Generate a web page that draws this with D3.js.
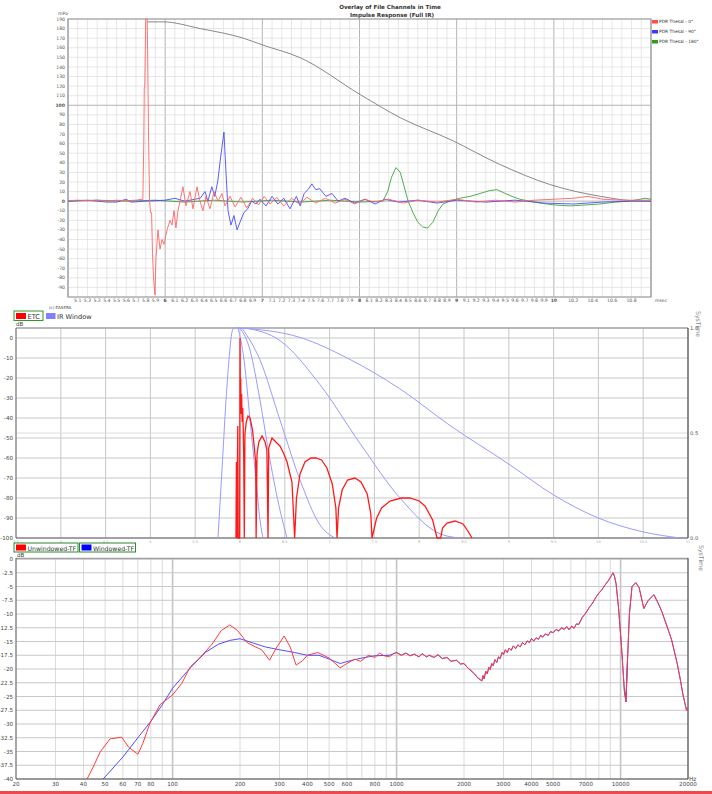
<!DOCTYPE html>
<html>
<head>
<meta charset="utf-8">
<script src="https://cdn.jsdelivr.net/npm/d3@7/dist/d3.min.js"></script>
<style>
body { margin: 0; background: #fff; }
text { font-family: "DejaVu Sans", sans-serif; }
</style>
</head>
<body>
<script>
var width = 712,
    height = 794;

// ---------- top panel: impulse responses (msec, mPa) ----------
var red0 = [[5.0,0.5],[5.1,1],[5.2,0.5],[5.3,1],[5.4,0],[5.5,1],[5.6,0.5],[5.7,1],[5.75,2],[5.77,1],
  [5.78,60],[5.785,118],[5.79,120],[5.80,190],[5.815,190],[5.82,150],[5.83,60],[5.84,0],[5.85,-12],[5.86,-12],
  [5.87,-55],[5.88,-80],[5.895,-98],[5.905,-60],[5.926,-30],[5.947,-50],[5.967,-40],[5.988,-45],[6.019,-30],
  [6.05,-20],[6.07,-25],[6.091,-10],[6.111,-28],[6.132,-10],[6.153,0],[6.183,15],[6.214,-5],[6.256,10],
  [6.286,-8],[6.328,15],[6.358,0],[6.389,-10],[6.42,5],[6.461,-8],[6.503,10],[6.544,0],[6.585,8],[6.616,-5],
  [6.667,5],[6.72,-6],[6.78,4],[6.84,-7],[6.9,3],[6.96,-4],[7.02,5],[7.08,-3],[7.15,4],[7.22,-5],[7.3,3],
  [7.38,-3],[7.46,4],[7.55,-2],[7.65,3],[7.75,-2],[7.85,2],[7.95,-3],[8.05,2],[8.15,-1],[8.3,2],[8.45,-2],
  [8.6,1],[8.8,-1],[9.0,2],[9.2,-1],[9.4,1],[9.6,-1],[9.8,1],[10.0,2],[10.2,3],[10.35,5],[10.5,2],[10.7,1],[11.0,1]];

var blue90 = [[5.0,0],[5.2,1],[5.4,-1],[5.5,-1],[5.6,2],[5.65,-1],[5.8,0],[6.0,1],[6.1,3],[6.2,0],[6.36,3],
  [6.41,10],[6.44,0],[6.48,15],[6.51,5],[6.54,20],[6.57,45],[6.605,72],[6.626,30],[6.647,-10],[6.677,-25],
  [6.708,-15],[6.74,-30],[6.77,-22],[6.81,-12],[6.85,-8],[6.89,0],[6.935,-3],[6.976,2],[7.038,-5],[7.1,5],
  [7.16,-3],[7.22,3],[7.285,-8],[7.35,5],[7.39,-5],[7.43,8],[7.47,12],[7.51,18],[7.55,12],[7.59,13],
  [7.655,5],[7.717,8],[7.78,0],[7.85,3],[7.95,-2],[8.06,2],[8.16,-3],[8.26,2],[8.4,-1],[8.6,1],[8.8,-2],
  [9.0,1],[9.3,-1],[9.6,1],[9.9,-2],[10.2,-3],[10.5,-1],[10.8,0],[11.0,0]];

var green180 = [[5.0,0],[5.3,1],[5.6,0],[5.9,1],[6.2,-1],[6.5,1],[6.8,-1],[7.1,1],[7.4,-1],[7.7,1],[8.0,-1],
  [8.24,0],[8.29,10],[8.33,25],[8.375,35],[8.42,30],[8.46,15],[8.5,0],[8.55,-12],[8.6,-22],[8.65,-27],
  [8.70,-28],[8.755,-22],[8.81,-10],[8.86,-3],[8.93,0],[9.03,3],[9.14,5],[9.24,8],[9.34,11],[9.415,12],
  [9.5,8],[9.57,5],[9.65,2],[9.75,0],[9.86,-2],[10.01,-4],[10.17,-5],[10.32,-4],[10.475,-3],[10.63,-1],
  [10.78,0],[10.94,3],[11.0,2]];

var windowFull = [[5.814,187],[5.979,187],[6.361,180],[6.804,170],[7.0,163],[7.392,149.5],[8.01,111],
  [8.42,87],[8.94,64],[9.45,38],[9.97,17],[10.48,5],[10.9,0],[11.0,0]];

var topSeries = [
  {name: "PDR Thesal - 0°", color: "#ff4d4d", values: red0},
  {name: "PDR Thesal - 90°", color: "#3b3bff", values: blue90},
  {name: "PDR Thesal - 180°", color: "#2e9a2e", values: green180}
];
var topXLabels = ["5.1","5.2","5.3","5.4","5.5","5.6","5.7","5.8","5.9","6","6.1","6.2","6.3","6.4","6.5","6.6",
  "6.7","6.8","6.9","7","7.1","7.2","7.3","7.4","7.5","7.6","7.7","7.8","7.9","8","8.1","8.2","8.3","8.4","8.5",
  "8.6","8.7","8.8","8.9","9","9.1","9.2","9.3","9.4","9.5","9.6","9.7","9.8","9.9","10","10.2","10.4","10.6","10.8"];
var topYLabels = d3.range(-90, 191, 10);

// ---------- middle panel: ETC (msec, dB) and IR windows (msec, 0..1) ----------
var etc = [[5.955,-100],[5.96,-62],[5.965,-100],[5.975,-44],[5.98,-100],[5.996,-100],[6.0,0],[6.004,-30],
  [6.008,-20],[6.012,-38],[6.018,-28],[6.024,-42],[6.03,-35],[6.036,-45],[6.042,-62],[6.048,-100],
  [6.055,-48],[6.07,-42],[6.09,-39],[6.112,-40],[6.14,-46],[6.16,-55],[6.175,-62],
  [6.18,-100],[6.19,-58],[6.21,-52],[6.246,-49],[6.28,-52],[6.3,-56],[6.313,-100],[6.32,-55],[6.357,-50],
  [6.40,-52],[6.446,-54],[6.49,-58],[6.525,-62],[6.58,-72],[6.61,-100],[6.63,-80],[6.67,-68],[6.725,-62],
  [6.79,-60],[6.848,-60],[6.91,-61],[6.97,-65],[7.03,-73],[7.07,-85],[7.083,-100],[7.1,-85],[7.14,-76],
  [7.2,-71],[7.283,-70],[7.35,-72],[7.42,-78],[7.46,-88],[7.473,-100],[7.525,-90],[7.58,-85],[7.674,-81.5],
  [7.80,-80],[7.897,-80],[8.0,-81.5],[8.065,-84],[8.15,-91],[8.199,-100],[8.24,-100],[8.26,-95],[8.31,-92.5],
  [8.4,-91.5],[8.489,-93],[8.55,-97],[8.589,-100]];

var winRise = [[5.754,0],[5.799,0.324],[5.844,0.657],[5.877,0.848],[5.911,0.981],[5.933,1.0],[6.0,1.0]];
var winA = [[5.978,1],[6.045,0.848],[6.112,0.562],[6.179,0.276],[6.223,0.086],[6.257,0]];
var winB = [[6.0,1],[6.112,0.895],[6.223,0.657],[6.335,0.371],[6.446,0.133],[6.525,0]];
var winC = [[6.022,1],[6.223,0.848],[6.446,0.562],[6.67,0.276],[6.893,0.062],[7.06,0]];
var winD = [[6.067,1],[6.446,0.94],[6.893,0.73],[7.34,0.45],[7.786,0.19],[8.232,0.02],[8.455,0]];
var winE = [[6.0,1],[6.67,0.955],[7.228,0.85],[7.786,0.71],[8.343,0.536],[9.0,0.352],[9.5,0.205],
  [10.0,0.095],[10.5,0.029],[10.91,0]];
var midXLabels = ["3.5","4","4.5","5","5.5","6","6.5","7","7.5","8","8.5","9","9.5","10","10.5","11"];
var midYLabels = [0,-10,-20,-30,-40,-50,-60,-70,-80,-90,-100];
var midRLabels = [["1.0",1],["0.5",0.5],["0.0",0]];

// ---------- bottom panel: transfer functions (Hz, dB) ----------
var unwindowed = [[41.5,-40],[44,-38],[47.5,-35.1],[52.6,-32.7],[59.3,-32.4],[63.6,-34.2],[70,-35.5],
  [73.7,-33.5],[79.3,-29.8],[87.9,-26.5],[100,-24.7],[110,-22.6],[120,-19.6],[132,-18],[150,-15.5],
  [165,-13],[180,-12],[195,-13],[215,-15.2],[235,-16],[250,-16.5],[271,-18.4],[292,-16],[315,-14],
  [335,-16],[356,-19.3],[380,-18.5],[400,-17.5],[445,-17],[500,-18],[560,-19.8],[600,-19],[650,-18.2],
  [690,-18.6],[750,-17.5],[800,-17.9],[840,-17.1],[880,-17.6],[930,-17.8],[970,-17.2],[1000,-17],
  [1050,-17.5],[1100,-17.1],[1150,-17.6],[1200,-17.3],[1260,-17.8],[1300,-17.2],[1360,-17.8],[1400,-17.5],
  [1470,-17.9],[1530,-17.4],[1600,-18.1],[1680,-17.9],[1750,-18.6],[1850,-18.4],[1930,-19.1],[2000,-19.0],
  [2080,-19.8],[2150,-20.3],[2230,-20.9],[2300,-21.6],[2360,-21.9],[2400,-22.2],[2430,-21.2],[2460,-21.8],
  [2500,-20.4],[2540,-20.9],[2580,-19.7],[2620,-20.1],[2660,-19.0],[2700,-19.4],[2750,-18.3],[2800,-18.8],
  [2850,-17.8],[2900,-18.1],[2960,-17.0],[3000,-17.4],[3060,-16.5],[3120,-17.0],[3180,-16.2],[3250,-16.6],
  [3320,-15.8],[3400,-16.3],[3480,-15.6],[3560,-16.0],[3650,-15.2],[3740,-15.6],[3830,-14.9],[3920,-15.2],
  [4000,-14.5],[4100,-14.9],[4200,-14.3],[4300,-14.6],[4400,-13.9],[4500,-14.2],[4620,-13.6],[4750,-13.9],
  [4870,-13.2],[5000,-13.4],[5150,-12.8],[5300,-13.1],[5450,-12.5],[5600,-12.8],[5750,-12.3],[5900,-12.9],
  [6050,-12.2],[6200,-12.6],[6350,-11.8],[6500,-11.9],[6750,-10.6],[7000,-9.8],[7250,-8.8],[7500,-8.0],
  [7750,-7.0],[8000,-6.2],[8250,-5.6],[8500,-4.8],[8800,-4],[9050,-3.2],[9250,-2.5],[9400,-3.2],[9550,-4.5],
  [9800,-9],[10100,-16],[10400,-24],[10570,-26],[10750,-18],[10950,-10],[11250,-5],[11700,-4.3],[12100,-5.2],
  [12700,-9],[13300,-7.5],[14100,-6.5],[14700,-8],[15300,-9.6],[16100,-12.2],[16900,-14.7],[17900,-19],
  [18500,-22],[19000,-24.7],[19700,-27.5],[20000,-27]];

// windowed TF below 1 kHz; above that it lies under the unwindowed trace
var windowedLow = [[49,-40],[60,-36],[70,-32.5],[80,-29.5],[90,-26.5],[100,-23.5],[120,-19.8],[140,-17],
  [160,-15.5],[180,-14.8],[200,-14.5],[230,-15.3],[260,-16],[300,-16.5],[350,-17],[400,-17.5],[450,-17.5],
  [500,-18.2],[560,-19],[620,-18.5],[700,-18],[800,-17.6],[930,-17.5]];
var windowedDip = [[10400,-23.5],[10570,-25.5],[10750,-17.5]];

var botXLabels = [20,30,40,50,60,70,80,100,200,300,400,500,600,800,1000,2000,3000,4000,5000,7000,10000,20000];
var botYLabels = ["0","-2.5","-5","-7.5","-10","-12.5","-15","-17.5","-20","-22.5","-25","-27.5","-30",
  "-32.5","-35","-37.5","-40"];

var svg = d3.select("body").append("svg")
    .attr("width", width)
    .attr("height", height);

svg.append("rect").attr("width", width).attr("height", height).attr("fill", "#fff");

// ================= TOP PANEL =================
var tx = d3.scaleLinear().domain([5, 11]).range([68, 651]);
var ty = d3.scaleLinear().domain([-100, 190]).range([297, 19]);
var gTop = svg.append("g");

d3.range(50, 111).forEach(function(i) {
    gTop.append("line")
        .attr("x1", tx(i / 10)).attr("x2", tx(i / 10))
        .attr("y1", 19).attr("y2", 297)
        .attr("stroke", i % 10 == 0 ? "#b4b4b4" : "#dcdcdc")
        .attr("stroke-width", i % 10 == 0 ? 1 : 0.7);
});
d3.range(-100, 191, 10).forEach(function(v) {
    gTop.append("line")
        .attr("x1", 68).attr("x2", 651)
        .attr("y1", ty(v)).attr("y2", ty(v))
        .attr("stroke", (v == 0 || v == 100) ? "#b4b4b4" : "#dcdcdc")
        .attr("stroke-width", (v == 0 || v == 100) ? 1 : 0.7);
});
gTop.append("rect")
    .attr("x", 68).attr("y", 19).attr("width", 583).attr("height", 278)
    .attr("fill", "none").attr("stroke", "#909090").attr("stroke-width", 1);

gTop.selectAll(".ylab").data(topYLabels).enter().append("text")
    .attr("x", 65).attr("y", function(d) { return ty(d) + 1.6; })
    .attr("text-anchor", "end")
    .attr("font-size", 4.6)
    .attr("font-weight", function(d) { return (d == 0 || d == 100) ? "bold" : "normal"; })
    .attr("fill", "#555")
    .text(function(d) { return d; });

gTop.selectAll(".xlab").data(topXLabels).enter().append("text")
    .attr("x", function(d) { return tx(+d); }).attr("y", 301.5)
    .attr("text-anchor", "middle")
    .attr("font-size", 4.6)
    .attr("font-weight", function(d) { return d.indexOf(".") < 0 ? "bold" : "normal"; })
    .attr("fill", "#555")
    .text(function(d) { return d; });

gTop.append("text").attr("x", 655).attr("y", 301.5).attr("font-size", 4.6).attr("fill", "#555").text("msec");
gTop.append("text").attr("x", 58).attr("y", 15).attr("font-size", 4.6).attr("fill", "#555").text("mPa");

gTop.append("text").attr("x", 390).attr("y", 8.5).attr("text-anchor", "middle")
    .attr("font-size", 5.6).attr("font-weight", "bold").attr("fill", "#333")
    .text("Overlay of File Channels in Time");
gTop.append("text").attr("x", 392).attr("y", 16.5).attr("text-anchor", "middle")
    .attr("font-size", 5.6).attr("font-weight", "bold").attr("fill", "#333")
    .text("Impulse Response (Full IR)");

var topLine = d3.line()
    .x(function(d) { return tx(d[0]); })
    .y(function(d) { return ty(d[1]); });

gTop.append("path").datum(windowFull)
    .attr("d", topLine.curve(d3.curveMonotoneX)).attr("fill", "none")
    .attr("stroke", "#7a7a7a").attr("stroke-width", 0.9);
topLine.curve(d3.curveLinear);

[green180, blue90, red0].forEach(function(s, i) {
    var c = ["#3aa63a", "#4a4aff", "#ff6464"][i];
    gTop.append("path").datum(s)
        .attr("d", topLine).attr("fill", "none").attr("stroke", c).attr("stroke-width", 0.9);
});

var leg = gTop.selectAll(".leg").data(topSeries).enter().append("g")
    .attr("transform", function(d, i) { return "translate(652," + (20 + i * 10) + ")"; });
leg.append("rect").attr("width", 6).attr("height", 3.5).attr("fill", function(d) { return d.color; });
leg.append("text").attr("x", 7).attr("y", 3.4).attr("font-size", 4.4).attr("fill", "#333")
    .text(function(d) { return d.name; });

// ================= MIDDLE PANEL =================
var mx = d3.scaleLinear().domain([3.5, 11]).range([16, 688]);
var my = d3.scaleLinear().domain([-100, 5]).range([538, 328]);
var myR = d3.scaleLinear().domain([0, 1]).range([538, 328]);
var gMid = svg.append("g");

d3.range(3.5, 11.01, 0.5).forEach(function(v) {
    gMid.append("line")
        .attr("x1", mx(v)).attr("x2", mx(v)).attr("y1", 328).attr("y2", 538)
        .attr("stroke", "#c8c8c8").attr("stroke-width", 1);
});
d3.range(-100, 1, 10).forEach(function(v) {
    gMid.append("line")
        .attr("x1", 16).attr("x2", 688).attr("y1", my(v)).attr("y2", my(v))
        .attr("stroke", "#c8c8c8").attr("stroke-width", 1);
});
gMid.append("line").attr("x1", 16).attr("x2", 688).attr("y1", myR(0.5)).attr("y2", myR(0.5))
    .attr("stroke", "#dedede").attr("stroke-width", 1);

gMid.append("line").attr("x1", 16).attr("x2", 688).attr("y1", 328).attr("y2", 328)
    .attr("stroke", "#a0a0a0").attr("stroke-width", 1.6);
gMid.append("line").attr("x1", 16).attr("x2", 16).attr("y1", 328).attr("y2", 538)
    .attr("stroke", "#707070").attr("stroke-width", 1);
gMid.append("line").attr("x1", 688).attr("x2", 688).attr("y1", 328).attr("y2", 538)
    .attr("stroke", "#505050").attr("stroke-width", 1.2);
gMid.append("line").attr("x1", 16).attr("x2", 688).attr("y1", 538).attr("y2", 538)
    .attr("stroke", "#606060").attr("stroke-width", 1.2);

gMid.selectAll(".ylab").data(midYLabels).enter().append("text")
    .attr("x", 13).attr("y", function(d) { return my(d) + 2; })
    .attr("text-anchor", "end").attr("font-size", 5.6).attr("fill", "#444")
    .text(function(d) { return d; });
gMid.selectAll(".rlab").data(midRLabels).enter().append("text")
    .attr("x", 690).attr("y", function(d) { return myR(d[1]) + 2; })
    .attr("font-size", 5.2).attr("fill", "#555")
    .text(function(d) { return d[0]; });
gMid.selectAll(".xlab").data(midXLabels).enter().append("text")
    .attr("x", function(d) { return mx(+d); }).attr("y", 543)
    .attr("text-anchor", "middle").attr("font-size", 3.6).attr("fill", "#aaa")
    .text(function(d) { return d; });

gMid.append("text").attr("x", 16).attr("y", 326).attr("font-size", 5.6).attr("fill", "#444").text("dB");
gMid.append("text").attr("x", 49).attr("y", 309).attr("font-size", 4).attr("fill", "#444").text("(c) EASERA");
gMid.append("text").attr("transform", "translate(696,311) rotate(90)")
    .attr("font-size", 6.2).attr("fill", "#888").text("SysTime");

gMid.append("rect").attr("x", 14).attr("y", 311).attr("width", 29).attr("height", 9.5)
    .attr("fill", "#fff").attr("stroke", "#2a9a2a").attr("stroke-width", 1);
gMid.append("rect").attr("x", 16).attr("y", 313).attr("width", 10).attr("height", 6).attr("fill", "#ff0000");
gMid.append("text").attr("x", 27.5).attr("y", 319).attr("font-size", 6.6).attr("fill", "#333").text("ETC");
gMid.append("rect").attr("x", 46).attr("y", 313).attr("width", 9.5).attr("height", 6).attr("fill", "#7f7fff");
gMid.append("text").attr("x", 57).attr("y", 319).attr("font-size", 6.6).attr("fill", "#333").text("IR Window");

var winLine = d3.line()
    .x(function(d) { return mx(d[0]); })
    .y(function(d) { return myR(d[1]); })
    .curve(d3.curveMonotoneX);
[winRise, winA, winB, winC, winD, winE].forEach(function(w) {
    gMid.append("path").datum(w).attr("d", winLine)
        .attr("fill", "none").attr("stroke", "#9a9aff").attr("stroke-width", 1);
});

var etcLine = d3.line()
    .x(function(d) { return mx(d[0]); })
    .y(function(d) { return my(d[1]); });
gMid.append("path").datum(etc).attr("d", etcLine)
    .attr("fill", "none").attr("stroke", "#ff1a1a").attr("stroke-width", 1.3);

// ================= BOTTOM PANEL =================
var bx = d3.scaleLog().domain([20, 20000]).range([16, 688]);
var by = d3.scaleLinear().domain([-40, 0]).range([779, 559]);
var gBot = svg.append("g");

[10, 100, 1000, 10000].forEach(function(dec) {
    d3.range(1, 10).forEach(function(k) {
        var f = dec * k;
        if (f < 20 || f > 20000) return;
        gBot.append("line")
            .attr("x1", bx(f)).attr("x2", bx(f)).attr("y1", 559).attr("y2", 779)
            .attr("stroke", k == 1 ? "#c4c4c4" : "#dadada")
            .attr("stroke-width", k == 1 ? 1.6 : 1);
    });
});
d3.range(-40, 0.1, 2.5).forEach(function(v) {
    gBot.append("line")
        .attr("x1", 16).attr("x2", 688).attr("y1", by(v)).attr("y2", by(v))
        .attr("stroke", "#c8c8c8").attr("stroke-width", 1);
});
gBot.append("line").attr("x1", 16).attr("x2", 688).attr("y1", 558.5).attr("y2", 558.5)
    .attr("stroke", "#a0a0a0").attr("stroke-width", 1.4);
gBot.append("line").attr("x1", 16).attr("x2", 16).attr("y1", 558).attr("y2", 779)
    .attr("stroke", "#606060").attr("stroke-width", 1);
gBot.append("line").attr("x1", 688).attr("x2", 688).attr("y1", 558).attr("y2", 779)
    .attr("stroke", "#505050").attr("stroke-width", 1.2);
gBot.append("line").attr("x1", 16).attr("x2", 688).attr("y1", 779).attr("y2", 779)
    .attr("stroke", "#505050").attr("stroke-width", 1.2);

gBot.selectAll(".ylab").data(botYLabels).enter().append("text")
    .attr("x", 13).attr("y", function(d) { return by(+d) + 2; })
    .attr("text-anchor", "end").attr("font-size", 5.6).attr("fill", "#444")
    .text(function(d) { return d; });
gBot.selectAll(".xlab").data(botXLabels).enter().append("text")
    .attr("x", function(d) { return bx(d); }).attr("y", 786)
    .attr("text-anchor", "middle").attr("font-size", 5.6)
    .attr("font-family", "Liberation Serif, serif").attr("fill", "#444")
    .text(function(d) { return d; });
gBot.append("text").attr("x", 689).attr("y", 781).attr("font-size", 5.8)
    .attr("font-family", "Liberation Serif, serif").attr("fill", "#444").text("Hz");
gBot.append("text").attr("x", 17).attr("y", 557).attr("font-size", 5.6).attr("fill", "#444").text("dB");
gBot.append("text").attr("transform", "translate(699,545) rotate(90)")
    .attr("font-size", 6.2).attr("fill", "#888").text("SysTime");

gBot.append("rect").attr("x", 14).attr("y", 543).attr("width", 64).attr("height", 9)
    .attr("fill", "#fff").attr("stroke", "#2a8a2a").attr("stroke-width", 1);
gBot.append("rect").attr("x", 16).attr("y", 544.5).attr("width", 10).attr("height", 6).attr("fill", "#ff0000");
gBot.append("text").attr("x", 27.5).attr("y", 550.5).attr("font-size", 6.2).attr("fill", "#333").text("Unwindowed-TF");
gBot.append("rect").attr("x", 79.5).attr("y", 543).attr("width", 56).attr("height", 9)
    .attr("fill", "#fff").attr("stroke", "#2a8a2a").attr("stroke-width", 1);
gBot.append("rect").attr("x", 81.5).attr("y", 544.5).attr("width", 10).attr("height", 6).attr("fill", "#0000ff");
gBot.append("text").attr("x", 93).attr("y", 550.5).attr("font-size", 6.2).attr("fill", "#333").text("Windowed-TF");

var tfLine = d3.line()
    .x(function(d) { return bx(d[0]); })
    .y(function(d) { return by(d[1]); });
svg.append("clipPath").attr("id", "botclip").append("rect")
    .attr("x", 16).attr("y", 559).attr("width", 672).attr("height", 220);
var windowed = windowedLow.concat(unwindowed.filter(function(d) { return d[0] >= 1000; }));
gBot.append("path").datum(windowed).attr("d", tfLine).attr("clip-path", "url(#botclip)")
    .attr("fill", "none").attr("stroke", "#3a3aff").attr("stroke-width", 0.9);
gBot.append("path").datum(windowedDip).attr("d", tfLine).attr("clip-path", "url(#botclip)")
    .attr("fill", "none").attr("stroke", "#3a3aff").attr("stroke-width", 0.9);
gBot.append("path").datum(unwindowed).attr("d", tfLine).attr("clip-path", "url(#botclip)")
    .attr("fill", "none").attr("stroke", "#ff3b3b").attr("stroke-width", 1);

// red strip at the bottom edge
svg.append("rect").attr("x", 0).attr("y", 791).attr("width", width).attr("height", 3).attr("fill", "#ee4a4a");
</script>
</body>
</html>
